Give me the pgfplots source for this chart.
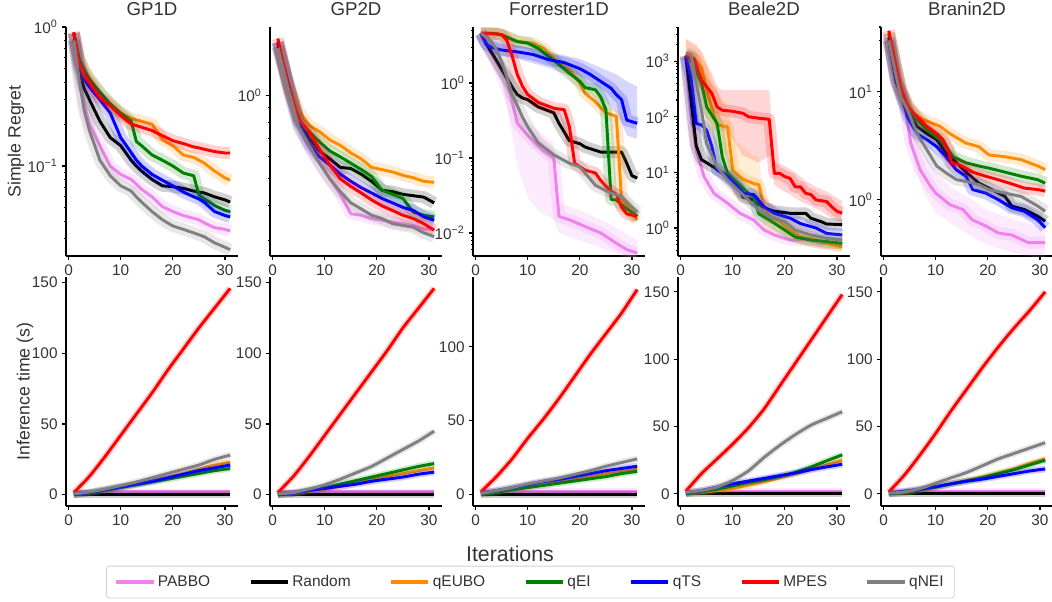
\documentclass[border=0pt]{standalone}
\usepackage{fontspec}
\setmainfont{Liberation Sans}
\usepackage{pgfplots}
\usepackage{pgfplotstable}
\pgfplotsset{compat=1.18}

\definecolor{cpabbo}{HTML}{EE82EE}
\definecolor{crandom}{HTML}{000000}
\definecolor{cqeubo}{HTML}{FF8C00}
\definecolor{cqei}{HTML}{008000}
\definecolor{cqts}{HTML}{0000FF}
\definecolor{cmpes}{HTML}{FF0000}
\definecolor{cqnei}{HTML}{808080}
\definecolor{txt}{HTML}{333333}

\def\bandw{9pt}

\pgfplotsset{
  panel/.style={
    scale only axis, width=129pt, height=171.75pt, anchor=north west,
    xmin=-0.5, xmax=32.5, xtick={0,10,20,30},
    axis x line*=bottom, axis y line*=left,
    axis line style={-, line width=1.1pt, black},
    tick align=outside, major tick length=2.8pt, minor tick length=1.6pt,
    tick style={black, line width=0.8pt},
    tick label style={font=\fontsize{11.5}{13}\selectfont, text=txt},
    /pgf/number format/assume math mode=true,
    title style={font=\fontsize{14}{16}\selectfont, text=txt,
      at={(axis description cs:0.5,1)}, anchor=base, yshift=3pt},
    ylabel style={font=\fontsize{13.3}{15}\selectfont, text=txt},
    no markers,
    every axis plot/.append style={line width=2.2pt, line join=round},
  },
  timepanel/.style={panel, every axis plot/.append style={smooth, tension=0.4}},
  band/.style={preaction={draw, line width=\bandw, opacity=0.18}},
  wide band/.style={fill=#1, fill opacity=0.16, draw=none, forget plot},
  spabbo/.style={color=cpabbo, band},
  srandom/.style={color=crandom, band},
  sqeubo/.style={color=cqeubo, band},
  sqei/.style={color=cqei, band},
  sqts/.style={color=cqts, band},
  smpes/.style={color=cmpes, band},
  sqnei/.style={color=cqnei, band},
}

\newcommand\allseries[1]{%
  \addplot[spabbo] table[y=pabbo]{#1};
  \addplot[srandom] table[y=random]{#1};
  \addplot[sqeubo] table[y=qeubo]{#1};
  \addplot[sqei] table[y=qei]{#1};
  \addplot[sqts] table[y=qts]{#1};
  \addplot[smpes] table[y=mpes]{#1};
  \addplot[sqnei] table[y=qnei]{#1};
}

% simple regret, GP1D
\pgfplotstableread{
x  pabbo random qeubo qei qts mpes qnei
1  0.82  0.80  0.90  0.90  0.90  0.92  0.80
2  0.45  0.50  0.60  0.60  0.55  0.55  0.42
3  0.28  0.36  0.50  0.48  0.42  0.45  0.25
4  0.20  0.30  0.43  0.42  0.37  0.40  0.18
6  0.14  0.21  0.33  0.34  0.30  0.31  0.11
8  0.10  0.16  0.28  0.28  0.24  0.27  0.085
10 0.087 0.14  0.24  0.24  0.16  0.23  0.072
12 0.080 0.11  0.22  0.21  0.125 0.20  0.066
13 0.074 0.10  0.215 0.15  0.11  0.195 0.060
14 0.068 0.092 0.21  0.14  0.10  0.19  0.055
16 0.060 0.080 0.20  0.12  0.087 0.18  0.047
18 0.051 0.072 0.155 0.11  0.079 0.165 0.041
20 0.047 0.071 0.14  0.10  0.072 0.152 0.037
22 0.044 0.069 0.12  0.089 0.065 0.145 0.035
24 0.042 0.066 0.115 0.085 0.060 0.137 0.033
25 0.041 0.065 0.11  0.062 0.058 0.135 0.032
26 0.039 0.064 0.105 0.058 0.055 0.132 0.031
28 0.036 0.060 0.092 0.052 0.047 0.127 0.028
30 0.035 0.057 0.082 0.048 0.044 0.124 0.026
31 0.034 0.055 0.079 0.047 0.043 0.124 0.025
}\gpa

% simple regret, GP2D
\pgfplotstableread{
x  pabbo random qeubo qei qts mpes qnei
1  1.55  1.50  1.55  1.55  1.55  1.60  1.48
3  1.05  1.10  1.12  1.08  1.10  1.08  1.05
5  0.77  0.83  0.88  0.80  0.80  0.82  0.77
7  0.65  0.70  0.78  0.74  0.67  0.74  0.66
9  0.57  0.63  0.74  0.68  0.60  0.64  0.57
11 0.50  0.59  0.69  0.63  0.56  0.56  0.50
13 0.44  0.55  0.66  0.60  0.52  0.50  0.45
15 0.375 0.545 0.62  0.57  0.49  0.47  0.41
17 0.37  0.52  0.59  0.54  0.465 0.445 0.39
19 0.36  0.49  0.55  0.51  0.445 0.42  0.37
21 0.355 0.455 0.54  0.455 0.425 0.40  0.36
23 0.35  0.45  0.53  0.44  0.41  0.385 0.345
25 0.345 0.44  0.515 0.425 0.395 0.37  0.34
27 0.34  0.435 0.505 0.38  0.385 0.36  0.335
29 0.33  0.43  0.49  0.37  0.365 0.345 0.32
31 0.33  0.41  0.486 0.365 0.355 0.327 0.31
}\gpb

% inference time tables
\pgfplotstableread{
x  pabbo random qeubo qei qts mpes qnei
1  2 0 0    0    0    1.5 0.5
4  2 0 1.5  1.2  1.5  13  2
7  2 0 3.5  3    3.5  27  4
10 2 0 5.5  5    5.5  42  6.5
13 2 0 7.5  7    7.5  57  9
16 2 0 10   9    9.5  72  12
19 2 0 12.5 11   12   88  15
22 2 0 15   13   14.5 103 18
25 2 0 18   15   17   118 21
28 2 0 21   17   19   132 25
31 2 0 23   18.5 21   146 28
}\tga

\pgfplotstableread{
x  pabbo random qeubo qei qts mpes qnei
1  2 0 0    0    0    1.5 0.5
4  2 0 0.8  1    1    13  1.5
7  2 0 2.5  3    3    27  4
10 2 0 4    5    4.5  42  7
13 2 0 6    7.5  6    57  11
16 2 0 8    10   7.5  72  15.5
19 2 0 10.5 12.5 9.5  87  20
22 2 0 13   15   11   102 26
25 2 0 15   17.5 12.5 118 32
28 2 0 17   20   14.5 132 38
31 2 0 19   22   16   146 45
}\tgb

\pgfplotstableread{
x  pabbo random qeubo qei qts mpes qnei
1  2 0 0    0    0.8  1.5 0.5
4  2 0 1.5  1.2  2.5  12  2.5
7  2 0 3.5  3    4.5  24  4.5
10 2 0 5    4.5  6.5  38  7
13 2 0 6.5  6    8.5  51  9
16 2 0 8.5  7.5  10   65  11
19 2 0 10.5 9    12   80  13.5
22 2 0 12   10.5 14   95  16
25 2 0 14   12   16   109 19
28 2 0 15.5 14   17.5 123 21.5
31 2 0 17   15.5 19   139 24
}\tgc

\pgfplotstableread{
x  pabbo random qeubo qei qts mpes qnei
1  2 0 0    0    0.5  2    1
4  2 0 1    1.5  2.5  15   2.5
7  2 0 2.5  3.5  5    26   5
10 2 0 4    6    7.5  37   10
13 2 0 6.5  8.5  9.5  49   17
16 2 0 9    10.5 11.5 63   27
19 2 0 12   13   13.5 80   36
22 2 0 15   16   15.5 97   44
25 2 0 18   20   18   114  51
28 2 0 21.5 24.5 20   131  56
31 2 0 25   29   22   148  61
}\tgd

\pgfplotstableread{
x  pabbo random qeubo qei qts mpes qnei
1  2 0 0    0    0.5  1.5 0.5
4  2 0 1    1    2    14  1.5
7  2 0 3    3    3.5  29  4
10 2 0 5    5    5.5  45  8
13 2 0 7.5  7.5  7.5  62  12
16 2 0 10   9.5  9.5  78  16
19 2 0 12.5 12   11   94  21
22 2 0 15.5 15   13   109 26
25 2 0 18.5 18   15   123 30
28 2 0 22.5 21.5 17   136 34
31 2 0 26   25   18.5 150 38
}\tge

\begin{document}
\begin{tikzpicture}
\useasboundingbox (0,0) rectangle (789pt,-450.75pt);

% ---------- top row: simple regret ----------
\begin{axis}[panel, at={(49.5pt,-20.25pt)}, title={GP1D},
  ymode=log, ymin=0.0225, ymax=1,
  ytick={0.1,1}, yticklabels={10\textsuperscript{−1},10\textsuperscript{0}},
  minor ytick={0.03,0.04,0.05,0.06,0.07,0.08,0.09,0.2,0.3,0.4,0.5,0.6,0.7,0.8,0.9},
  ylabel={Simple Regret},
  ylabel style={at={(axis description cs:-0.29,0.5)}, anchor=center}]
\allseries{\gpa}
\end{axis}

\begin{axis}[panel, at={(202.5pt,-20.25pt)}, title={GP2D},
  ymode=log, ymin=0.264, ymax=1.76,
  ytick={1}, yticklabels={10\textsuperscript{0}},
  minor ytick={0.3,0.4,0.5,0.6,0.7,0.8,0.9}]
\allseries{\gpb}
\end{axis}

\begin{axis}[panel, at={(354.75pt,-20.25pt)}, title={Forrester1D},
  ymode=log, ymin=0.00493, ymax=5.58,
  ytick={0.01,0.1,1}, yticklabels={10\textsuperscript{−2},10\textsuperscript{−1},10\textsuperscript{0}},
  minor ytick={0.006,0.007,0.008,0.009,0.02,0.03,0.04,0.05,0.06,0.07,0.08,0.09,0.2,0.3,0.4,0.5,0.6,0.7,0.8,0.9,2,3,4,5}]
% wide spread bands (upper edge, then lower edge back)
\addplot[wide band=cpabbo] coordinates {(1,5)(6,1.5)(8,0.45)(10,0.3)(13,0.2)(15,0.16)(16,0.025)(20,0.02)(25,0.014)(31,0.008)
  (31,0.004)(25,0.006)(20,0.008)(16,0.01)(15,0.015)(12,0.02)(10,0.03)(8,0.08)(6,0.5)(1,4.2)};
\addplot[wide band=cqts] coordinates {(1,5)(3,3.8)(8,3.2)(14,2.6)(20,2.1)(24,1.6)(27,1.3)(29,1.05)(31,0.9)
  (31,0.18)(29,0.2)(28,0.3)(27,0.4)(24,0.65)(20,1.1)(14,1.6)(8,2.1)(3,2.5)(1,4.2)};
\addplot[spabbo] coordinates {(1,4.6)(3,2.5)(6,1.1)(8,0.29)(10,0.2)(13,0.125)(15,0.1)(16,0.0166)(18,0.015)(21,0.0122)(24,0.01)(27,0.0073)(29,0.006)(31,0.0054)};
\addplot[srandom] coordinates {(1,4.6)(2,3.4)(4,2.0)(7,0.89)(8,0.7)(9,0.63)(10,0.6)(12,0.48)(15,0.4)(16,0.29)(18,0.17)(20,0.155)(21,0.14)(24,0.12)(28,0.12)(29,0.085)(30,0.058)(31,0.054)};
\addplot[sqeubo] coordinates {(1,4.6)(4,4.6)(6,4.1)(8,3.6)(11,3.4)(13,2.9)(14,2.5)(16,1.83)(18,1.5)(20,1.0)(21,0.73)(23,0.56)(25,0.4)(27,0.36)(28,0.028)(29,0.024)(30,0.018)(31,0.0149)};
\addplot[sqei] coordinates {(1,4.6)(3,4.6)(5,4.4)(8,3.55)(10,3.4)(12,2.9)(15,2.0)(18,1.35)(20,1.05)(21,0.87)(23,0.81)(24,0.65)(25,0.44)(26,0.028)(27,0.0276)(28,0.024)(29,0.021)(30,0.019)(31,0.0166)};
\addplot[sqts] coordinates {(1,4.6)(2,3.3)(3,3.0)(5,2.75)(8,2.6)(11,2.4)(14,2.05)(17,1.87)(20,1.55)(22,1.3)(24,1.05)(26,0.85)(27,0.7)(28,0.6)(29,0.32)(31,0.29)};
\addplot[smpes] coordinates {(1,4.6)(4,4.5)(5,4.4)(6,3.7)(7,2.3)(8,1.3)(9,0.9)(10,0.7)(12,0.55)(15,0.46)(17,0.44)(18,0.26)(19,0.085)(21,0.069)(23,0.063)(24,0.05)(25,0.042)(26,0.036)(27,0.033)(28,0.022)(29,0.018)(31,0.0166)};
\addplot[sqnei] coordinates {(1,4.6)(3,3.6)(4,2.8)(5,1.9)(6,1.2)(7,0.7)(8,0.5)(9,0.35)(10,0.26)(12,0.16)(15,0.11)(18,0.085)(20,0.076)(21,0.063)(23,0.043)(26,0.034)(28,0.031)(30,0.022)(31,0.019)};
\end{axis}

\begin{axis}[panel, at={(508.5pt,-20.25pt)}, title={Beale2D},
  ymode=log, ymin=0.314, ymax=4100,
  ytick={1,10,100,1000}, yticklabels={10\textsuperscript{0},10\textsuperscript{1},10\textsuperscript{2},10\textsuperscript{3}},
  minor ytick={0.4,0.5,0.6,0.7,0.8,0.9,2,3,4,5,6,7,8,9,20,30,40,50,60,70,80,90,200,300,400,500,600,700,800,900,2000,3000,4000}]
\addplot[wide band=cmpes] coordinates {(1,2500)(3,2000)(4,1500)(5,900)(6,600)(7,350)(8,300)(17,300)(18,15)(20,13)(22,10)(24,7)(26,5.5)(28,4.5)(30,3.5)(31,3)
  (31,1.2)(29,1.5)(27,2)(25,2.5)(23,3)(21,4)(19,5)(18,6)(17,20)(15,15)(12,20)(10,40)(8,60)(7,90)(6,150)(5,200)(4,300)(2,600)(1,700)};
\addplot[wide band=cqeubo] coordinates {(1,2500)(4,1500)(6,500)(8,200)(9,150)(10,40)(14,20)(15,18)(16,4)(20,1.5)(25,0.9)(31,0.6)
  (31,0.38)(25,0.45)(20,0.6)(16,0.9)(15,2)(12,3)(10,4)(9,20)(7,25)(5,80)(3,400)(1,800)};
\addplot[spabbo] coordinates {(1,1200)(2,115)(3,25)(4.5,8.4)(6.4,4.2)(9,2.8)(11.4,1.84)(14,1.4)(16,0.92)(18,0.75)(21,0.61)(24,0.61)(27,0.53)(31,0.53)};
\addplot[srandom] coordinates {(1,1250)(2,200)(3,30)(4,17)(6,13)(8,10)(10,7)(11,5.5)(12,3.6)(14,3.2)(16,2.3)(18,2.0)(21,1.84)(24,1.84)(25,1.5)(27,1.3)(28,1.18)(31,1.15)};
\addplot[sqeubo] coordinates {(1,1200)(2,1200)(3,1000)(4,750)(5,300)(6,140)(7,71)(9,66)(10,11)(11,9)(12,7.5)(14,6.3)(15,6)(16,2.4)(17,1.6)(19,1.3)(21,0.92)(23,0.7)(26,0.61)(28,0.53)(31,0.46)};
\addplot[sqei] coordinates {(1,1300)(2,1040)(4,400)(5,150)(7,76)(8,19)(9,9.6)(11,6.3)(13,4.2)(14,3.6)(15,1.8)(17,1.4)(20,0.92)(22,0.69)(25,0.61)(28,0.57)(31,0.53)};
\addplot[sqts] coordinates {(1,1200)(2,500)(3,76)(4,71)(5,57)(6,29)(7,11)(9,8.4)(11,5.5)(12,4.2)(14,4.0)(16,2.4)(18,1.84)(21,1.5)(23,1.2)(26,1.0)(28,0.8)(31,0.75)};
\addplot[smpes] coordinates {(1,1280)(2.6,1100)(4,456)(5,345)(6,262)(7,150)(8,131)(10,125)(12,115)(13,100)(15,94)(17,90)(18,9.6)(19,9.6)(20,8.4)(21,7.8)(22,5.5)(23,5.5)(24,4.2)(25,4.0)(26,3.2)(28,3.0)(29,2.4)(30,2.0)(31,1.85)};
\addplot[sqnei] coordinates {(1,1400)(2,1300)(3,400)(4,131)(5,33)(7,12.6)(9,7.3)(11,4.8)(13,3.2)(15,2.1)(17,1.6)(20,1.3)(22,0.92)(25,0.75)(28,0.65)(31,0.61)};
\end{axis}

\begin{axis}[panel, at={(660.75pt,-20.25pt)}, title={Branin2D},
  ymode=log, ymin=0.30, ymax=40,
  ytick={1,10}, yticklabels={10\textsuperscript{0},10\textsuperscript{1}},
  minor ytick={0.4,0.5,0.6,0.7,0.8,0.9,2,3,4,5,6,7,8,9,20,30,40}]
\addplot[wide band=cpabbo] coordinates {(1,38)(4,12)(6,4.5)(8,2.6)(10,1.8)(13,1.3)(17,1.0)(20,0.8)(25,0.65)(31,0.55)
  (31,0.28)(25,0.32)(20,0.38)(17,0.45)(13,0.6)(10,0.75)(8,1.1)(6,2)(4,6)(1,24)};
\addplot[spabbo] coordinates {(1,30)(2.4,13)(3.9,8.4)(5.2,3.35)(7,1.9)(9,1.33)(10,1.15)(12.7,0.9)(15.2,0.81)(17,0.65)(19.6,0.57)(22,0.49)(24.6,0.47)(27.7,0.4)(31,0.4)};
\addplot[srandom] coordinates {(1,30)(2.4,12.3)(3.3,9.7)(4.6,6.8)(6.4,4.8)(8.3,4.1)(10.2,3.6)(12,2.7)(14,2.2)(16,1.77)(18.3,1.42)(20.2,1.28)(23.3,1.07)(24.6,0.87)(27,0.81)(29.6,0.7)(31,0.63)};
\addplot[sqeubo] coordinates {(1,35)(2.4,17)(3.3,10.4)(4.6,7.85)(5.8,6.3)(7.7,5.5)(10.8,4.8)(12.7,4.1)(15.8,3.35)(18.3,3.1)(20.2,2.6)(23.3,2.5)(26.4,2.35)(29.6,2.05)(31,1.9)};
\addplot[sqei] coordinates {(1,35)(3.3,10.4)(4.6,7.3)(6.4,5.5)(8.3,4.45)(10.8,3.6)(12,3.1)(13.3,2.5)(15.8,2.2)(18.3,2.05)(20.2,1.96)(23.3,1.8)(26.4,1.65)(29.6,1.53)(31,1.42)};
\addplot[sqts] coordinates {(1,32)(2.4,13)(3.3,9.7)(4.6,5.9)(6.4,4.1)(8.3,3.6)(10.2,3.1)(12,2.5)(13.9,1.9)(15.8,1.65)(17.1,1.24)(19.6,1.15)(22,1.0)(24.6,0.84)(27,0.78)(29.6,0.65)(31,0.55)};
\addplot[smpes] coordinates {(1,37)(2.4,17)(3.3,11)(4.6,7.3)(6.4,5.9)(8.3,4.8)(10.2,4.1)(11.4,3.6)(12.4,2.9)(13,2.2)(14.6,2.1)(17.1,1.8)(19.6,1.65)(22,1.53)(24.6,1.4)(27,1.28)(29.6,1.24)(31,1.2)};
\addplot[sqnei] coordinates {(1,30)(2.4,14)(3.3,9)(4.6,6.8)(6.4,4.1)(8.3,2.9)(10.2,2.05)(12,1.77)(14,1.53)(15.8,1.48)(18.3,1.38)(20.2,1.24)(23.3,1.15)(26.4,1.07)(29.6,0.87)(31,0.78)};
\end{axis}

% ---------- bottom row: inference time ----------
\def\bandw{5pt}
\begin{axis}[timepanel, at={(49.5pt,-207.75pt)},
  ymin=-8, ymax=154, ytick={0,50,100,150},
  ylabel={Inference time (s)},
  ylabel style={at={(axis description cs:-0.238,0.5)}, anchor=center},
  legend image code/.code={\draw[#1, line width=2.6pt] (0pt,0pt) -- (28pt,0pt);},
  legend style={at={(axis description cs:2.70,-0.332)}, anchor=center,
    legend columns=7, draw=black!18, line width=0.6pt, rounded corners=2pt,
    font=\fontsize{11.6}{13}\selectfont, text=txt, inner ysep=5pt, inner xsep=6pt,
    /tikz/every even column/.append style={column sep=27pt}}]
\addlegendimage{color=cpabbo}
\addlegendimage{color=crandom}
\addlegendimage{color=cqeubo}
\addlegendimage{color=cqei}
\addlegendimage{color=cqts}
\addlegendimage{color=cmpes}
\addlegendimage{color=cqnei}
\allseries{\tga}
\legend{PABBO,Random,qEUBO,qEI,qTS,MPES,qNEI}
\end{axis}

\begin{axis}[timepanel, at={(202.5pt,-207.75pt)},
  ymin=-8, ymax=154, ytick={0,50,100,150}]
\allseries{\tgb}
\end{axis}

\begin{axis}[timepanel, at={(354.75pt,-207.75pt)},
  ymin=-8, ymax=147.5, ytick={0,50,100}]
\allseries{\tgc}
\end{axis}

\begin{axis}[timepanel, at={(508.5pt,-207.75pt)},
  ymin=-9, ymax=161, ytick={0,50,100,150}]
\allseries{\tgd}
\end{axis}

\begin{axis}[timepanel, at={(660.75pt,-207.75pt)},
  ymin=-9, ymax=161, ytick={0,50,100,150}]
\allseries{\tge}
\end{axis}

\node[font=\fontsize{16}{18}\selectfont, text=txt, anchor=base] at (382.5pt,-420.75pt) {Iterations};
\end{tikzpicture}
\end{document}
